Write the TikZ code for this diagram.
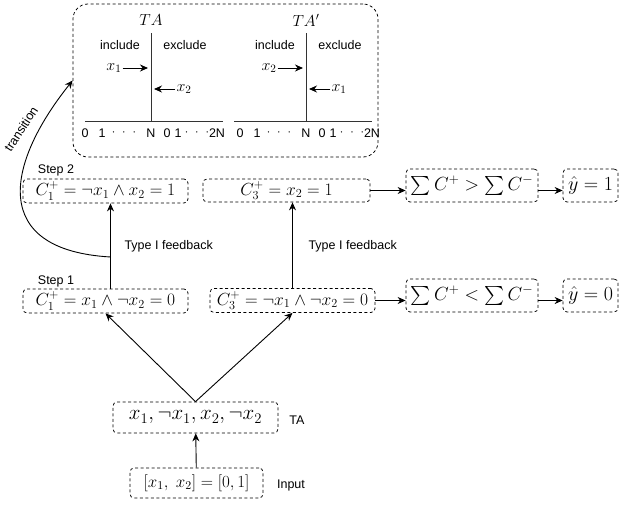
\RequirePackage{fix-cm}
\documentclass[tikz,border=0pt]{standalone}
\usepackage{amsmath,amssymb}
\usepackage[no-math]{fontspec}
\setmainfont{Liberation Sans}
\usetikzlibrary{positioning}
\usetikzlibrary{arrows.meta,calc}
\tikzstyle{box} = [draw, line width=0.75pt, dash pattern=on 3pt off 2.5pt, rounded corners=4pt, inner sep=0pt, font=\fontsize{17.5}{20}\selectfont]
\tikzstyle{arrow} = [line width=0.9pt,-{Stealth[length=8pt,width=7pt]}]
\tikzstyle{lbl} = [font=\fontsize{12.5}{15}\selectfont]
\tikzstyle{axis} = [line width=1pt, black!80]

\begin{document}
\begin{tikzpicture}[x=1pt,y=-1pt]
\useasboundingbox (0,0) rectangle (619,506);
% tsetlin automata box
\node (tabox) [draw, line width=0.75pt, dash pattern=on 3pt off 2.5pt, rounded corners=15pt, minimum width=305pt, minimum height=153pt] at (225.5,80.5) {};
\foreach \i/\cx/\ta/\xa/\xb/\l/\r in {1/151/TA/1/2/66/72, 2/306/TA'/2/1/72/66} {
  \node (t\i) at (\cx,20) [font=\fontsize{16}{18}\selectfont] {$\ta$};
  \coordinate (top\i) at (\cx,33);
  \coordinate (bot\i) at (\cx,121);
  \coordinate (hl\i) at (\cx-\l,121);
  \coordinate (hr\i) at (\cx+\r,121);
  \draw[axis] (top\i)--(bot\i);
  \draw[axis] (hl\i)--(hr\i);
  \node[lbl] (inc\i) at (\cx-31,45) {include};
  \node[lbl] (exc\i) at (\cx+34,45) {exclude};
  \node[font=\fontsize{16}{18}\selectfont, inner sep=1pt] (xa\i) at (\cx-37,68) {$x_\xa$};
  \coordinate (va\i) at (\cx-3,68);
  \draw[arrow] (xa\i)--(va\i);
  \node[font=\fontsize{16}{18}\selectfont, inner sep=1pt] (xb\i) at (\cx+33,89) {$x_\xb$};
  \coordinate (vb\i) at (\cx+3,89);
  \draw[arrow] (xb\i)--(vb\i);
  \foreach \dx/\s in {-66/0, -49/1, -27/{$\cdot\,\,\cdot\,\,\cdot$}, 0/N, 16/0, 27/1, 46/{$\cdot\,\,\cdot\,\,\cdot$}, 66/2N}
    \node[lbl] (n\i\dx) at (\cx+\dx,133) {\s};
}
% step 2
\node[lbl] (step2) at (56,170) {Step 2};
\node[box, minimum width=165pt, minimum height=24pt] (c1b) at (105.5,191) {$C_1^+ = \neg x_1 \wedge x_2 = 1$};
\node[box, minimum width=167pt, minimum height=23pt] (c3b) at (286.5,190.5) {$C_3^+ = x_2 = 1$};
\node[box, minimum width=132pt, minimum height=33pt, font=\fontsize{19}{22}\selectfont] (sumgt) at (472,185.5) {$\sum C^+ > \sum C^-$};
\node[box, minimum width=55pt, minimum height=33pt, font=\fontsize{20}{23}\selectfont] (yone) at (590.5,185.5) {$\hat{y} = 1$};
% step 1
\node[lbl] (step1) at (56,281) {Step 1};
\node[box, minimum width=165pt, minimum height=24pt] (c1a) at (105.5,301) {$C_1^+ = x_1 \wedge \neg x_2 = 0$};
\node[box, minimum width=165pt, minimum height=24pt] (c3a) at (292.5,300.5) {$C_3^+ = \neg x_1 \wedge \neg x_2 = 0$};
\node[box, minimum width=132pt, minimum height=33pt, font=\fontsize{19}{22}\selectfont] (sumlt) at (472,295.5) {$\sum C^+ < \sum C^-$};
\node[box, minimum width=55pt, minimum height=33pt, font=\fontsize{20}{23}\selectfont] (yzero) at (590.5,295.5) {$\hat{y} = 0$};
% literals and input
\node[box, minimum width=165pt, minimum height=31pt, font=\fontsize{21}{24}\selectfont] (lits) at (195.5,417.5) {$x_1, \neg x_1, x_2, \neg x_2$};
\node[lbl] (talbl) at (297,420) {TA};
\node[box, minimum width=133pt, minimum height=30pt, font=\fontsize{17}{20}\selectfont] (inp) at (196.5,483) {$[x_1,\ x_2] = [0,1]$};
\node[lbl] (inplbl) at (291,485) {Input};

\draw[arrow] (inp)--(lits);
\draw[arrow] (lits.north)--(c1a.south);
\draw[arrow] (lits.north)--(c3a.south);
\draw[arrow] ([xshift=5pt]c1a.north)--([xshift=5pt]c1b.south);
\draw[arrow] (c3a.north)--(c3a.north |- c3b.south);
\node[lbl, anchor=west] (fb1) at (121,246) {Type I feedback};
\node[lbl, anchor=west] (fb2) at (305,246) {Type I feedback};
\draw[arrow] (c3b.east)--(c3b.east -| sumgt.west);
\draw[arrow] (c3b.east -| sumgt.east)--(c3b.east -| yone.west);
\draw[arrow] (c3a.east)--(c3a.east -| sumlt.west);
\draw[arrow] (c3a.east -| sumlt.east)--(c3a.east -| yzero.west);
% transition
\coordinate (tstart) at (110.5,257);
\draw[arrow] (tstart) .. controls (-10,250) and (5,165) .. (tabox.west);
\node[lbl, rotate=57] (trans) at (21,129) {transition};
\end{tikzpicture}
\end{document}
